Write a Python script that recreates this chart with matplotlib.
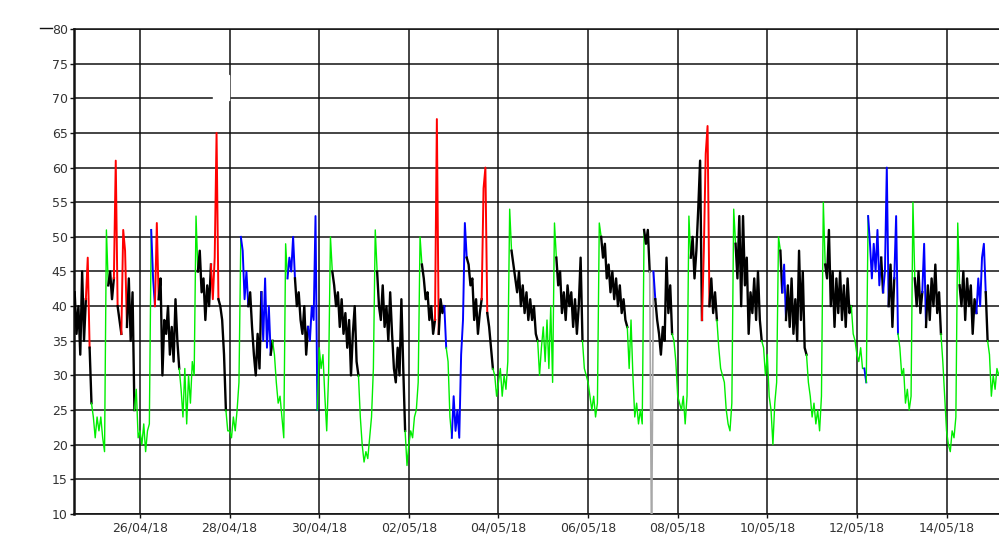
#!/usr/bin/env python3

import datetime as dt
import matplotlib
matplotlib.use("Agg")
import matplotlib.pyplot as plt
from matplotlib.patches import Rectangle
from matplotlib.lines import Line2D

# hourly readings, one list per day (24/04 starts at 13:00)
# colour codes: g green, k black, b blue, r red, s grey
# (a code colours the stroke that ends on that reading)
apr24 = [42, 36, 40, 33, 45, 35, 41, 47, 34, 26, 24]
apr24_c = "kkkkkkkrrkg"
apr25 = [21, 24, 22, 24, 21, 19, 51, 43, 45, 41, 44, 61, 40, 38, 36, 51, 48, 37, 44, 35, 42, 25, 28, 21]
apr25_c = "ggggggggkkkrrkkrrrkkkkgg"
apr26 = [22, 20, 23, 19, 22, 23, 51, 44, 40, 52, 41, 44, 30, 38, 36, 40, 33, 37, 32, 41, 35, 31, 28, 24]
apr26_c = "gggggggbbrrkkkkkkkkkkkgg"
apr27 = [31, 23, 30, 26, 32, 30, 53, 45, 48, 42, 44, 38, 43, 40, 46, 41, 47, 65, 41, 40, 38, 33, 25, 22]
apr27_c = "ggggggggkkkkkkkrrrrkkkkg"
apr28 = [22, 21, 24, 22, 25, 29, 50, 48, 41, 45, 40, 42, 37, 33, 30, 36, 31, 42, 35, 44, 34, 40, 33, 35]
apr28_c = "gggggggbbbbkkkkkkkbbbbbk"
apr29 = [33, 29, 26, 27, 24, 21, 49, 44, 47, 45, 50, 44, 40, 42, 38, 36, 40, 33, 37, 35, 40, 38, 53, 25]
apr29_c = "ggggggggbbbbkkkkkkkbbbbb"
apr30 = [34, 31, 33, 27, 22, 30, 50, 45, 43, 40, 42, 37, 41, 36, 39, 34, 38, 30, 36, 40, 32, 30, 24, 20]
apr30_c = "ggggggggkkkkkkkkkkkkkkgg"
may01 = [17.5, 19, 18, 21, 24, 31, 51, 45, 40, 38, 43, 37, 40, 35, 42, 36, 31, 29, 34, 30, 41, 31, 22, 17]
may01_c = "ggggggggkkkkkkkkkkkkkkkg"
may02 = [20, 22, 21, 24, 25, 29, 50, 46, 44, 41, 42, 38, 40, 36, 38, 67, 36, 41, 39, 40, 34, 32, 24, 21]
may02_c = "ggggggggkkkkkkkrrkkkbggg"
may03 = [27, 22, 25, 21, 33, 38, 52, 47, 46, 43, 44, 38, 41, 36, 39, 41, 57, 60, 39, 37, 34, 31, 30, 27]
may03_c = "bbbbbbbbkkkkkkkkrrrkkkgg"
may04 = [29, 31, 27, 30, 28, 32, 54, 48, 46, 44, 42, 45, 40, 43, 39, 42, 38, 41, 38, 40, 36, 35, 30, 34]
may04_c = "ggggggggkkkkkkkkkkkkkkgg"
may05 = [37, 32, 38, 31, 40, 29, 52, 47, 43, 45, 39, 42, 38, 43, 40, 42, 37, 41, 36, 40, 47, 35, 31, 30]
may05_c = "ggggggggkkkkkkkkkkkkkkgg"
may06 = [29, 27, 25, 27, 24, 26, 52, 50, 47, 49, 44, 46, 42, 45, 41, 44, 40, 43, 39, 41, 38, 37, 31, 38]
may06_c = "ggggggggkkkkkkkkkkkkkkgg"
may07 = [30, 24, 26, 23, 25, 23, 51, 49, 51, 45, 5, 45, 41, 38, 36, 33, 37, 35, 47, 39, 43, 36, 35, 32]
may07_c = "gggggggkkkssbkkkkkkkkkgg"
may08 = [27, 26, 25, 27, 23, 27, 53, 47, 50, 44, 48, 54, 61, 38, 48, 62, 66, 40, 44, 39, 42, 38, 34, 31]
may08_c = "ggggggggkkkkkkrrrrkkkkgg"
may09 = [30, 29, 25, 23, 22, 26, 54, 49, 44, 53, 40, 53, 43, 47, 36, 42, 39, 44, 38, 45, 38, 35, 34, 30]
may09_c = "ggggggggkkkkkkkkkkkkkkgg"
may10 = [33, 27, 25, 20, 26, 29, 50, 48, 42, 46, 38, 43, 37, 44, 36, 41, 35, 48, 38, 45, 34, 33, 29, 27]
may10_c = "ggggggggkbbkkkkkkkkkkkgg"
may11 = [24, 26, 23, 25, 22, 27, 55, 46, 44, 51, 40, 45, 37, 44, 39, 45, 38, 43, 37, 44, 39, 40, 36, 35]
may11_c = "ggggggggkkkkkkkkkkkkkkgg"
may12 = [33, 32, 34, 31, 31, 29, 53, 49, 44, 49, 45, 51, 43, 47, 42, 45, 60, 40, 46, 37, 44, 53, 36, 34]
may12_c = "gggggbgbbbbbbbkbbbkkkbbg"
may13 = [30, 31, 26, 28, 25, 27, 55, 44, 40, 45, 39, 42, 49, 37, 43, 38, 44, 40, 46, 39, 42, 36, 32, 27]
may13_c = "ggggggggkkkkbbkkkkkkkkgg"
may14 = [22, 20, 19, 22, 21, 24, 52, 43, 40, 45, 38, 44, 40, 43, 36, 41, 39, 44, 40, 47, 49, 42, 35, 33]
may14_c = "ggggggggkkkkkkkkkbbbbbkg"
may15 = [27, 30, 28, 31, 30, 31]
may15_c = "gggggg"

tick_labels = ['26/04/18', '28/04/18', '30/04/18', '02/05/18', '04/05/18', '06/05/18',
               '08/05/18', '10/05/18', '12/05/18', '14/05/18']
y_ticks = list(range(10, 81, 5))

days = [
    (dt.datetime(2018, 4, 24, 13), apr24, apr24_c),
    (dt.datetime(2018, 4, 25), apr25, apr25_c),
    (dt.datetime(2018, 4, 26), apr26, apr26_c),
    (dt.datetime(2018, 4, 27), apr27, apr27_c),
    (dt.datetime(2018, 4, 28), apr28, apr28_c),
    (dt.datetime(2018, 4, 29), apr29, apr29_c),
    (dt.datetime(2018, 4, 30), apr30, apr30_c),
    (dt.datetime(2018, 5, 1), may01, may01_c),
    (dt.datetime(2018, 5, 2), may02, may02_c),
    (dt.datetime(2018, 5, 3), may03, may03_c),
    (dt.datetime(2018, 5, 4), may04, may04_c),
    (dt.datetime(2018, 5, 5), may05, may05_c),
    (dt.datetime(2018, 5, 6), may06, may06_c),
    (dt.datetime(2018, 5, 7), may07, may07_c),
    (dt.datetime(2018, 5, 8), may08, may08_c),
    (dt.datetime(2018, 5, 9), may09, may09_c),
    (dt.datetime(2018, 5, 10), may10, may10_c),
    (dt.datetime(2018, 5, 11), may11, may11_c),
    (dt.datetime(2018, 5, 12), may12, may12_c),
    (dt.datetime(2018, 5, 13), may13, may13_c),
    (dt.datetime(2018, 5, 14), may14, may14_c),
    (dt.datetime(2018, 5, 15), may15, may15_c),
]

colour_map = {'g': '#00ee00', 'k': '#000000', 'b': '#0000ff', 'r': '#ff0000', 's': '#a8a8a8'}
width_map = {'g': 1.0, 'k': 1.7, 'b': 1.4, 'r': 1.4, 's': 1.2}


def flatten(days):
    times, vals, cols = [], [], []
    for start, v, c in days:
        assert len(v) == len(c), start
        for i in range(len(v)):
            times.append(start + dt.timedelta(hours=i))
            vals.append(v[i])
            cols.append(c[i])
    return times, vals, cols


def main():
    times, vals, cols = flatten(days)

    fig = plt.figure(figsize=(9.99, 5.45), dpi=100)
    ax = fig.add_axes([74 / 999, 31 / 545, 925 / 999, 485 / 545])

    # each run of one colour, joined to the point before it
    n = len(vals)
    i = 1
    while i < n:
        j = i
        while j + 1 < n and cols[j + 1] == cols[i]:
            j += 1
        ax.plot(times[i - 1:j + 1], vals[i - 1:j + 1],
                color=colour_map[cols[i]], lw=width_map[cols[i]], zorder=3)
        i = j + 1

    base = dt.datetime(2018, 4, 24)
    ax.set_xlim(base + dt.timedelta(hours=12.64), base + dt.timedelta(hours=508.1))
    ax.set_ylim(10, 80)

    tick_dates = [dt.datetime.strptime(s, '%d/%m/%y') for s in tick_labels]
    ax.set_xticks(tick_dates)
    ax.set_xticklabels(tick_labels)
    ax.set_yticks(y_ticks)
    ax.set_yticklabels([str(t) for t in y_ticks])

    ax.grid(True, color='#111111', lw=1.1, zorder=1)
    ax.tick_params(axis='both', length=3, width=1, color='#111111',
                   labelsize=9, labelcolor='#333333')
    ax.tick_params(axis='x', pad=2.5)
    ax.tick_params(axis='y', pad=1.5)

    ax.spines['right'].set_visible(False)
    ax.spines['left'].set_linewidth(1.8)
    ax.spines['bottom'].set_linewidth(1.2)
    ax.spines['top'].set_linewidth(1.1)
    for s in ax.spines.values():
        s.set_color('#111111')

    # stray bits in the original picture
    fig.patches.append(Rectangle((213 / 999, 445 / 545), 16 / 999, 25 / 545,
                                 transform=fig.transFigure, color='white', zorder=10))
    fig.lines.append(Line2D([40 / 999, 52 / 999], [517 / 545, 517 / 545],
                            transform=fig.transFigure, color='#111111', lw=1))

    fig.savefig('out.png', dpi=100)


if __name__ == "__main__":
    main()
